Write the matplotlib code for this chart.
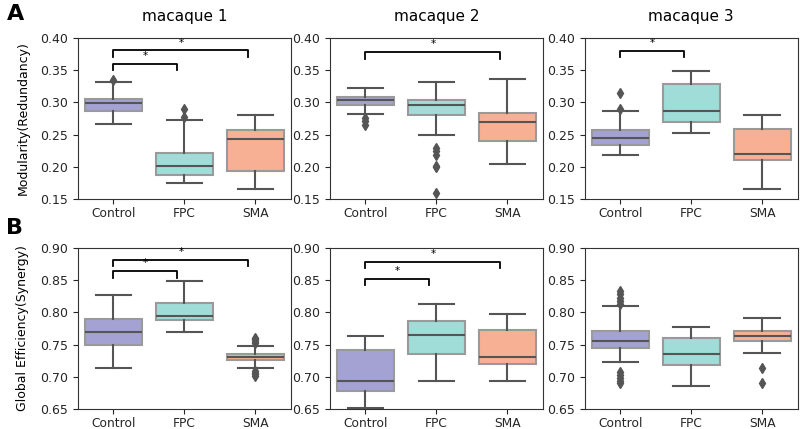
import matplotlib
matplotlib.use("Agg")
import matplotlib.pyplot as plt

groups = ["Control", "FPC", "SMA"]
titles = ["macaque 1", "macaque 2", "macaque 3"]
ylabels = ["Modularity(Redundancy)", "Global Efficiency(Synergy)"]
colors = ["#a4a2d2", "#a0dcd8", "#f7b094"]

# box stats: [whislo, q1, med, q3, whishi] per group
mod_m1 = [[0.267, 0.287, 0.299, 0.306, 0.332],
          [0.175, 0.187, 0.202, 0.222, 0.272],
          [0.166, 0.194, 0.243, 0.257, 0.280]]
mod_m2 = [[0.282, 0.296, 0.303, 0.308, 0.323],
          [0.249, 0.281, 0.296, 0.304, 0.332],
          [0.205, 0.240, 0.269, 0.283, 0.336]]
mod_m3 = [[0.218, 0.234, 0.244, 0.257, 0.287],
          [0.253, 0.270, 0.286, 0.328, 0.349],
          [0.166, 0.211, 0.220, 0.258, 0.280]]
eff_m1 = [[0.713, 0.749, 0.770, 0.789, 0.827],
          [0.770, 0.788, 0.795, 0.814, 0.848],
          [0.713, 0.726, 0.731, 0.735, 0.748]]
eff_m2 = [[0.652, 0.678, 0.694, 0.741, 0.763],
          [0.694, 0.735, 0.765, 0.787, 0.813],
          [0.694, 0.720, 0.730, 0.772, 0.797]]
eff_m3 = [[0.723, 0.745, 0.755, 0.771, 0.810],
          [0.686, 0.718, 0.736, 0.761, 0.777],
          [0.737, 0.756, 0.763, 0.771, 0.792]]

mod_fliers_m1 = [[0.335], [0.277, 0.290], []]
mod_fliers_m2 = [[0.276, 0.271, 0.265], [0.229, 0.224, 0.219, 0.202, 0.200, 0.160], []]
mod_fliers_m3 = [[0.290, 0.314], [], []]
eff_fliers_m1 = [[], [], [0.752, 0.755, 0.758, 0.760, 0.709, 0.706, 0.704, 0.702]]
eff_fliers_m2 = [[], [], []]
eff_fliers_m3 = [[0.813, 0.818, 0.823, 0.828, 0.833, 0.708, 0.703, 0.698, 0.693, 0.690],
                 [], [0.713, 0.691]]

# significance brackets: (start, end, height)
sig_mod = [[(0, 0.9, 0.360), (0, 1.9, 0.381)], [(0, 1.9, 0.378)], [(0, 0.9, 0.380)]]
sig_eff = [[(0, 0.9, 0.864), (0, 1.9, 0.882)], [(0, 0.9, 0.852), (0, 1.9, 0.879)], []]

rows = [
    (mod_m1, mod_m2, mod_m3),
    (eff_m1, eff_m2, eff_m3),
]
row_fliers = [
    (mod_fliers_m1, mod_fliers_m2, mod_fliers_m3),
    (eff_fliers_m1, eff_fliers_m2, eff_fliers_m3),
]
row_sig = [sig_mod, sig_eff]
ylims = [(0.15, 0.40), (0.65, 0.90)]
yticks = [[0.15, 0.20, 0.25, 0.30, 0.35, 0.40], [0.65, 0.70, 0.75, 0.80, 0.85, 0.90]]

fig = plt.figure(figsize=(8, 4.29), dpi=100)
lefts = [0.0975, 0.4125, 0.731]
bottoms = [1 - 199 / 429, 1 - 409 / 429]
w, h = 0.266, 161 / 429

line_col = "#555555"
for r in range(2):
    for c in range(3):
        ax = fig.add_axes([lefts[c], bottoms[r], w, h])
        stats = []
        for g, vals in enumerate(rows[r][c]):
            lo, q1, med, q3, hi = vals
            stats.append(dict(whislo=lo, q1=q1, med=med, q3=q3, whishi=hi,
                              fliers=row_fliers[r][c][g], label=groups[g]))
        bp = ax.bxp(stats, positions=range(3), widths=0.8, capwidths=0.5,
                    patch_artist=True,
                    boxprops=dict(edgecolor="#9a9a9a", linewidth=1.5),
                    medianprops=dict(color=line_col, linewidth=1.5),
                    whiskerprops=dict(color=line_col, linewidth=1.5),
                    capprops=dict(color=line_col, linewidth=1.5),
                    flierprops=dict(marker="d", markerfacecolor=line_col,
                                    markeredgecolor=line_col, markersize=5))
        for patch, col in zip(bp["boxes"], colors):
            patch.set_facecolor(col)
        ax.set_xlim(-0.5, 2.5)
        ax.set_ylim(*ylims[r])
        ax.set_yticks(yticks[r])
        ax.set_yticklabels([f"{t:.2f}" for t in yticks[r]])
        ax.tick_params(axis="y", labelsize=9, colors="#262626")
        ax.tick_params(axis="x", labelsize=8.8, colors="#262626", pad=2.5)
        for s in ax.spines.values():
            s.set_color("#333333")
        for x1, x2, y in row_sig[r][c]:
            ax.plot([x1, x1, x2, x2], [y - 0.01, y, y, y - 0.01], color="black", lw=1.3)
            ax.text((x1 + x2) / 2, y + 0.012, "*", ha="center", va="center", fontsize=7.5)
        if r == 0:
            ax.set_title(titles[c], fontsize=11, pad=12)
        if c == 0:
            ax.set_ylabel(ylabels[r], fontsize=9, labelpad=8)

fig.text(0.008, 1 - 14 / 429, "A", fontsize=16, fontweight="bold", va="center")
fig.text(0.008, 1 - 228 / 429, "B", fontsize=16, fontweight="bold", va="center")

fig.savefig("out.png", dpi=100)
